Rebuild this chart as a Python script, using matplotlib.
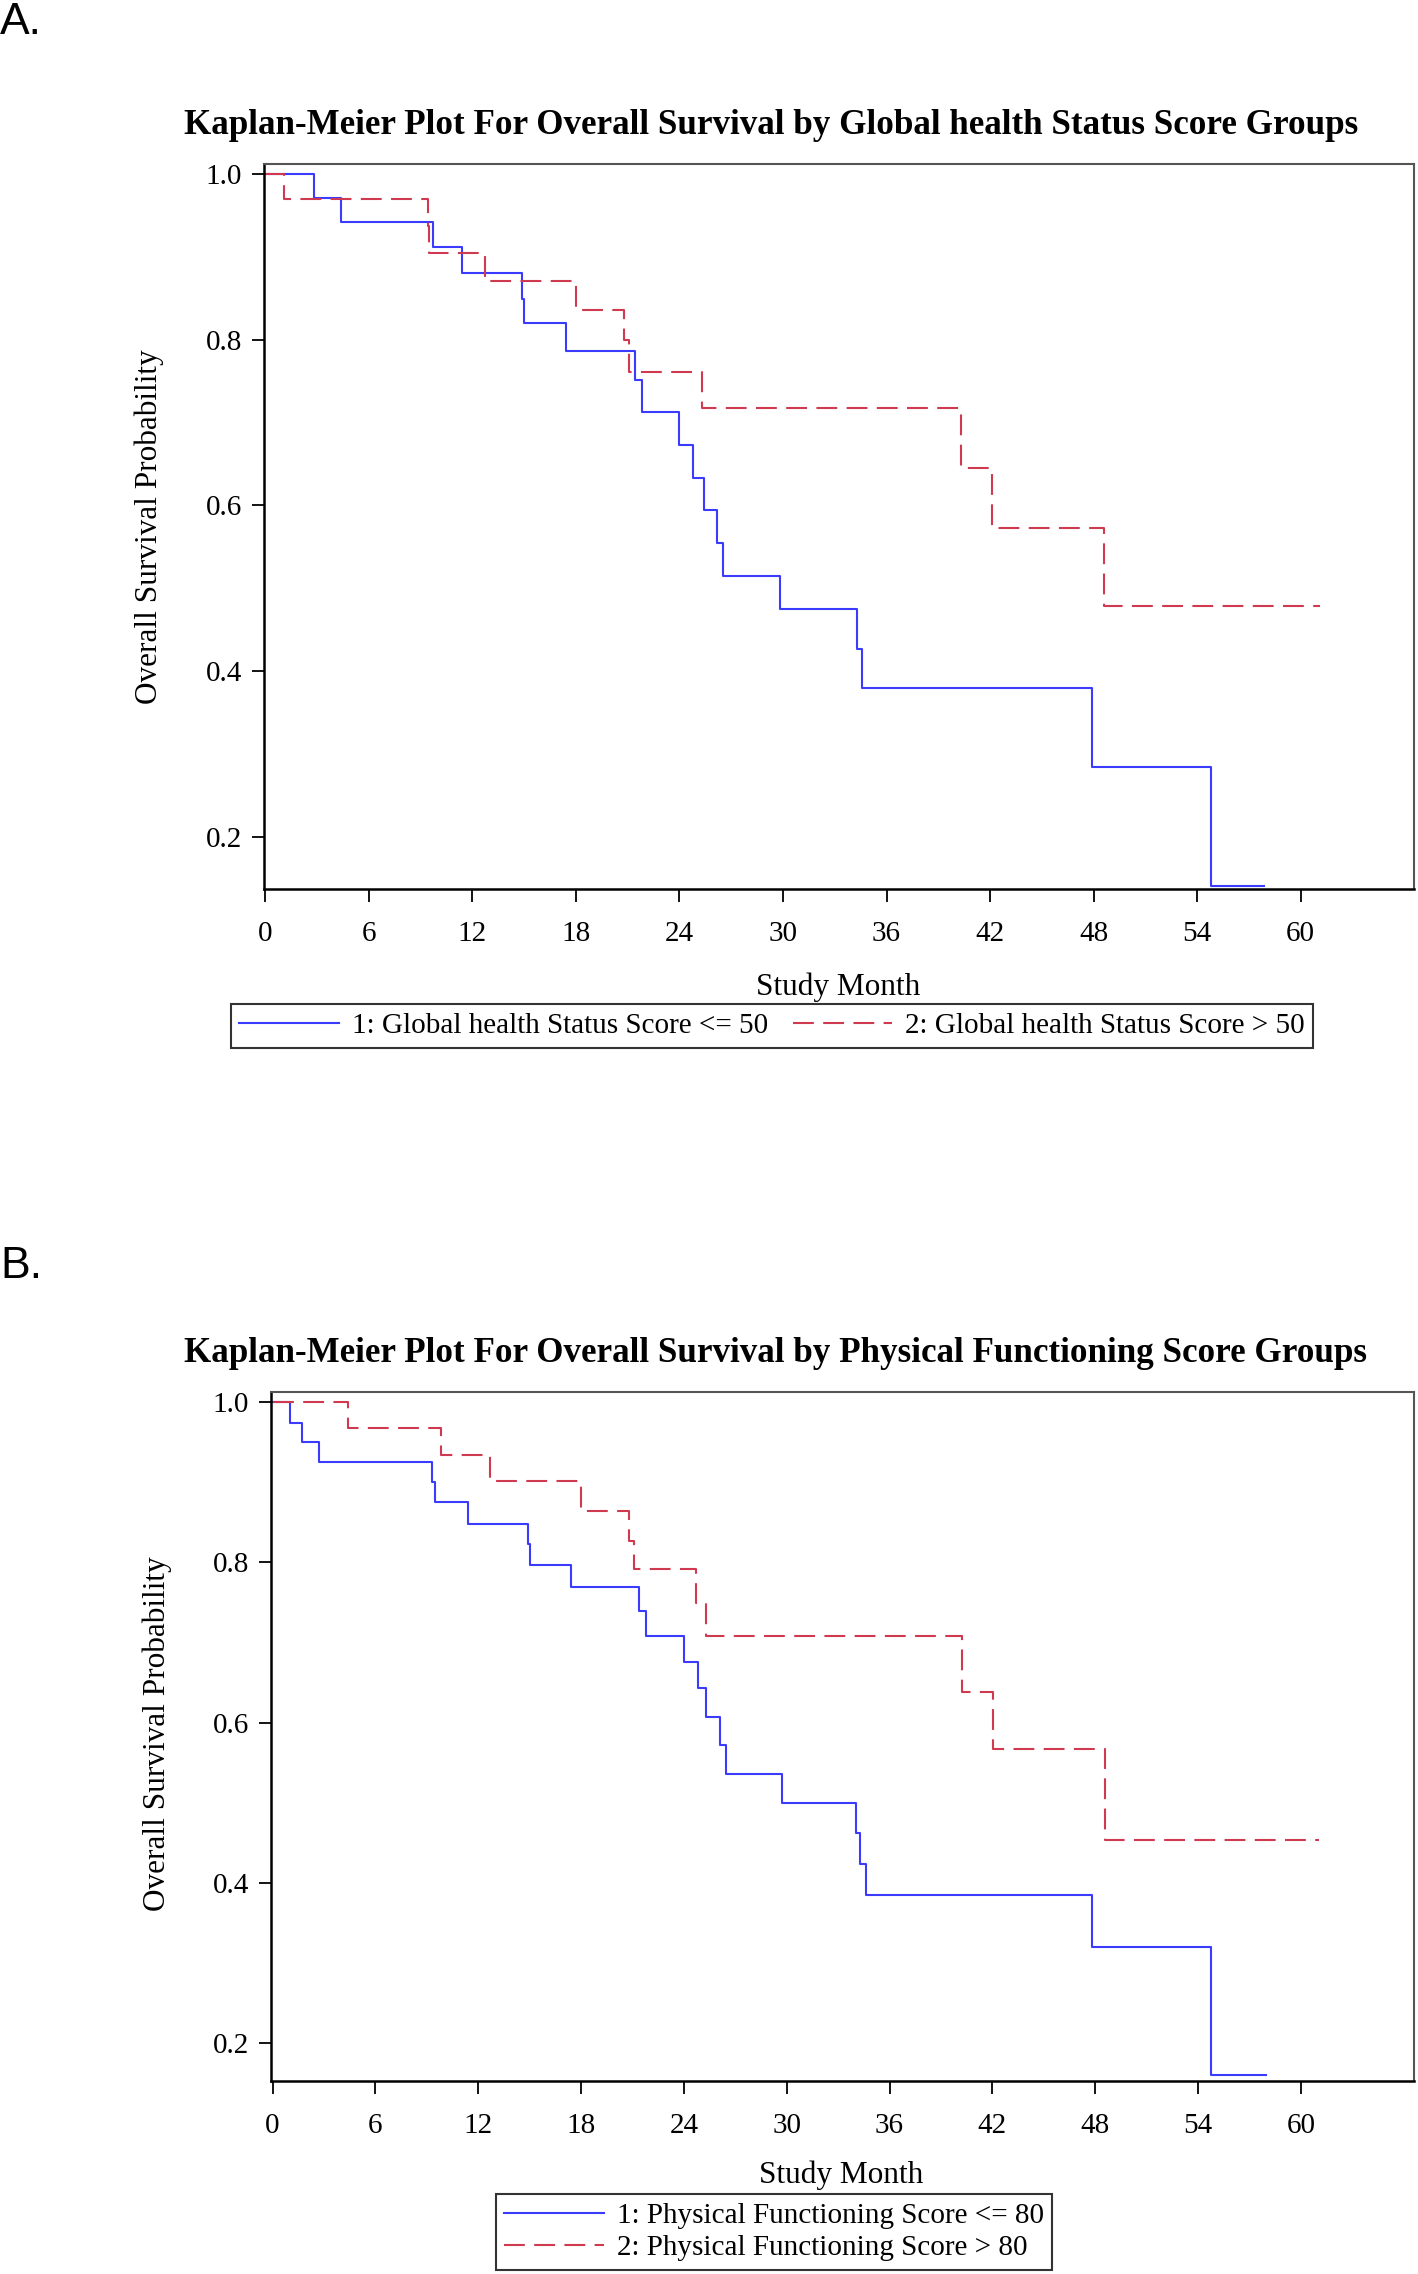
import matplotlib
matplotlib.use("Agg")
import matplotlib.pyplot as plt
from matplotlib.lines import Line2D

# ---------------- data ----------------
# Panel A: Global health Status Score groups
a_low_t = [0, 2.8, 4.4, 9.7, 11.4, 14.9, 15.0, 17.4, 21.4, 21.8, 24.0, 24.8, 25.4,
           26.2, 26.5, 29.8, 34.3, 34.6, 47.9, 54.8, 57.9]
a_low_s = [1.0, 0.971, 0.942, 0.912, 0.880, 0.849, 0.820, 0.786, 0.751, 0.713, 0.673,
           0.633, 0.594, 0.554, 0.515, 0.475, 0.427, 0.380, 0.284, 0.141, 0.141]
a_high_t = [0, 1.06, 9.4, 9.5, 12.7, 18.0, 20.8, 21.05, 25.3, 40.3, 42.1, 48.6, 61.1]
a_high_s = [1.0, 0.970, 0.937, 0.904, 0.871, 0.836, 0.799, 0.761, 0.717, 0.645,
            0.573, 0.478, 0.478]

# Panel B: Physical Functioning Score groups
b_low_t = [0, 0.99, 1.73, 2.73, 9.3, 9.5, 11.4, 14.9, 15.0, 17.4, 21.4, 21.8, 24.0,
           24.8, 25.3, 26.1, 26.46, 29.75, 34.03, 34.27, 34.6, 47.84, 54.77, 57.95]
b_low_s = [1.0, 0.974, 0.950, 0.925, 0.900, 0.875, 0.848, 0.823, 0.796, 0.769, 0.739,
           0.708, 0.675, 0.643, 0.607, 0.572, 0.536, 0.500, 0.462, 0.424, 0.385,
           0.320, 0.160, 0.160]
b_high_t = [0, 4.4, 9.8, 12.7, 18.0, 20.8, 21.1, 24.7, 25.3, 40.2, 42.05, 48.57, 61.07]
b_high_s = [1.0, 0.967, 0.934, 0.901, 0.864, 0.827, 0.791, 0.749, 0.708, 0.638,
            0.567, 0.454, 0.454]

x_ticks = [0, 6, 12, 18, 24, 30, 36, 42, 48, 54, 60]
y_ticks = [0.2, 0.4, 0.6, 0.8, 1.0]
y_tick_labels = ["0.2", "0.4", "0.6", "0.8", "1.0"]

title_a = "Kaplan-Meier Plot For Overall Survival by Global health Status Score Groups"
title_b = "Kaplan-Meier Plot For Overall Survival by Physical Functioning Score Groups"
legend_a = ["1: Global health Status Score <= 50", "2: Global health Status Score > 50"]
legend_b = ["1: Physical Functioning Score <= 80", "2: Physical Functioning Score > 80"]
xlabel = "Study Month"
ylabel = "Overall Survival Probability"

# ---------------- style ----------------
BLUE = "#3b3bff"
RED = "#cf3a50"
SERIF = "Liberation Serif"
SANS = "Liberation Sans"
LW = 1.5
DASH = (10, 4.5)
TICK_FS = 21
LABEL_FS = 22.5
LEG_FS = 21
TITLE_FS = 25.2

W, H = 1418, 2274
fig = plt.figure(figsize=(W / 100, H / 100), dpi=100)
fig.patch.set_facecolor("white")


def px_axes(left, right, top, bottom):
    return fig.add_axes([left / W, 1 - bottom / H, (right - left) / W, (bottom - top) / H])


def style_axes(ax, xlim, ylim):
    ax.set_xlim(*xlim)
    ax.set_ylim(*ylim)
    ax.set_xticks(x_ticks)
    ax.set_xticklabels([str(v) for v in x_ticks])
    ax.set_yticks(y_ticks)
    ax.set_yticklabels(y_tick_labels)
    ax.tick_params(axis="both", direction="out", length=9, width=1.3, colors="black",
                   labelsize=TICK_FS)
    ax.tick_params(axis="x", pad=14)
    ax.tick_params(axis="y", pad=7)
    for lab in ax.get_xticklabels() + ax.get_yticklabels():
        lab.set_fontfamily(SERIF)
    for side in ["left", "bottom"]:
        ax.spines[side].set_color("black")
        ax.spines[side].set_linewidth(1.8)
    for side in ["top", "right"]:
        ax.spines[side].set_color("#555555")
        ax.spines[side].set_linewidth(1.5)


def draw(ax, t1, s1, t2, s2):
    ax.step(t1, s1, where="post", color=BLUE, lw=LW)
    ax.step(t2, s2, where="post", color=RED, lw=LW, dashes=DASH)


# Panel A
axA = px_axes(264, 1414, 164, 889)
draw(axA, a_low_t, a_low_s, a_high_t, a_high_s)
style_axes(axA, (-0.08, 66.57), (0.137, 1.012))

# Panel B
axB = px_axes(271, 1414, 1392, 2081)
draw(axB, b_low_t, b_low_s, b_high_t, b_high_s)
style_axes(axB, (-0.09, 66.6), (0.1526, 1.0125))

# Titles
fig.text(771 / W, 1 - 125 / H, title_a, ha="center", va="center", family=SERIF,
         fontweight="bold", fontsize=TITLE_FS)
fig.text(776 / W, 1 - 1353 / H, title_b, ha="center", va="center", family=SERIF,
         fontweight="bold", fontsize=TITLE_FS)

# Axis labels
fig.text(149 / W, 1 - 527 / H, ylabel, rotation=90, ha="center", va="center",
         family=SERIF, fontsize=LABEL_FS)
fig.text(157 / W, 1 - 1734 / H, ylabel, rotation=90, ha="center", va="center",
         family=SERIF, fontsize=LABEL_FS)
fig.text(838 / W, 1 - 987 / H, xlabel, ha="center", va="center", family=SERIF,
         fontsize=LABEL_FS)
fig.text(841 / W, 1 - 2175 / H, xlabel, ha="center", va="center", family=SERIF,
         fontsize=LABEL_FS)

# Panel letters
fig.text(0 / W, 1 - 22 / H, "A.", ha="left", va="center", family=SANS, fontsize=32)
fig.text(0 / W, 1 - 1266 / H, "B.", ha="left", va="center", family=SANS, fontsize=32)

# Legends
handles = [Line2D([], [], color=BLUE, lw=LW),
           Line2D([], [], color=RED, lw=LW, dashes=DASH)]
legA = fig.legend(handles, legend_a, loc="center", bbox_to_anchor=(772 / W, 1 - 1026 / H),
                  ncol=2, frameon=True, fancybox=False, edgecolor="black",
                  prop={"family": SERIF, "size": LEG_FS}, handlelength=3.4,
                  handletextpad=0.45, columnspacing=0.85, borderpad=0.3,
                  borderaxespad=0)
legA.get_frame().set_linewidth(1.5)
legB = fig.legend(handles, legend_b, loc="center", bbox_to_anchor=(774 / W, 1 - 2232 / H),
                  ncol=1, frameon=True, fancybox=False, edgecolor="black",
                  prop={"family": SERIF, "size": LEG_FS}, handlelength=3.4,
                  handletextpad=0.45, borderpad=0.3, labelspacing=0.2,
                  borderaxespad=0)
legB.get_frame().set_linewidth(1.5)

fig.savefig("out.png", dpi=100, facecolor="white")
